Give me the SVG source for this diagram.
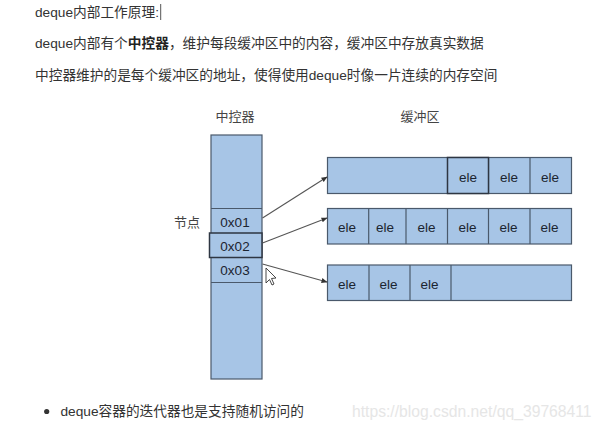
<svg xmlns="http://www.w3.org/2000/svg" width="602" height="428" viewBox="0 0 602 428">
  <style>
    .txt { font-family: "Liberation Sans", "Noto Sans CJK SC", sans-serif; font-size: 13.7px; fill: #333333; }
    .lbl { font-family: "Liberation Sans", "Noto Sans CJK SC", sans-serif; font-size: 13px; fill: #444444; text-anchor: middle; }
    .cell { fill: #a7c5e6; stroke: #4a596b; stroke-width: 1.2; }
    .sel { fill: #a7c5e6; stroke: #2e3642; stroke-width: 1.5; }
    .div { stroke: #4a596b; stroke-width: 1.2; }
    .v { font-family: "Liberation Sans", "Noto Sans", sans-serif; font-size: 13.5px; fill: #1c2430; text-anchor: middle; }
    .conn { stroke: #555555; stroke-width: 1.1; fill: none; marker-end: url(#ah); }
  </style>
  <defs>
    <marker id="ah" markerWidth="6" markerHeight="6" refX="5.5" refY="3" orient="auto" markerUnits="userSpaceOnUse">
      <path d="M0,0.5 L6,3 L0,5.5 Z" fill="#333333"/>
    </marker>
  </defs>
  <rect width="602" height="428" fill="#ffffff"/>

  <g id="text-lines">
    <text class="txt" x="35" y="17">deque内部工作原理:</text>
    <line x1="160.7" y1="4" x2="160.7" y2="20" stroke="#555" stroke-width="1"/>
    <text class="txt" x="35" y="48">deque内部有个<tspan font-weight="bold" fill="#222">中控器</tspan>，维护每段缓冲区中的内容，缓冲区中存放真实数据</text>
    <text class="txt" x="35" y="80">中控器维护的是每个缓冲区的地址，使得使用deque时像一片连续的内存空间</text>
  </g>

  <g id="labels">
    <text class="lbl" x="235" y="121">中控器</text>
    <text class="lbl" x="420" y="121">缓冲区</text>
    <text class="lbl" x="187" y="227">节点</text>
  </g>

  <g id="controller">
    <rect class="cell" x="211" y="135" width="51" height="244"/>
    <line class="div" x1="211" y1="208.5" x2="262" y2="208.5"/>
    <line class="div" x1="211" y1="282.5" x2="262" y2="282.5"/>
    <rect class="sel" x="209.5" y="233" width="52.5" height="24.5"/>
    <text class="v" x="235" y="226.5">0x01</text>
    <text class="v" x="235" y="250.5">0x02</text>
    <text class="v" x="235" y="275">0x03</text>
  </g>

  <g id="buffer1">
    <rect class="cell" x="327.5" y="157.5" width="244" height="36"/>
    <line class="div" x1="488.5" y1="157.5" x2="488.5" y2="193.5"/>
    <line class="div" x1="530" y1="157.5" x2="530" y2="193.5"/>
    <rect class="sel" x="447.5" y="157.5" width="41" height="36"/>
    <text class="v" x="468" y="181.5">ele</text>
    <text class="v" x="509" y="181.5">ele</text>
    <text class="v" x="550" y="181.5">ele</text>
  </g>

  <g id="buffer2">
    <rect class="cell" x="327.5" y="208.5" width="244" height="35.5"/>
    <line class="div" x1="368.7" y1="208.5" x2="368.7" y2="244"/>
    <line class="div" x1="406" y1="208.5" x2="406" y2="244"/>
    <line class="div" x1="447.5" y1="208.5" x2="447.5" y2="244"/>
    <line class="div" x1="488.5" y1="208.5" x2="488.5" y2="244"/>
    <line class="div" x1="530" y1="208.5" x2="530" y2="244"/>
    <text class="v" x="347" y="231.5">ele</text>
    <text class="v" x="385" y="231.5">ele</text>
    <text class="v" x="426.5" y="231.5">ele</text>
    <text class="v" x="467.5" y="231.5">ele</text>
    <text class="v" x="508.5" y="231.5">ele</text>
    <text class="v" x="549.5" y="231.5">ele</text>
  </g>

  <g id="buffer3">
    <rect class="cell" x="327.5" y="265" width="244" height="35.5"/>
    <line class="div" x1="369" y1="265" x2="369" y2="300.5"/>
    <line class="div" x1="410" y1="265" x2="410" y2="300.5"/>
    <line class="div" x1="451" y1="265" x2="451" y2="300.5"/>
    <text class="v" x="347" y="288.5">ele</text>
    <text class="v" x="388.5" y="288.5">ele</text>
    <text class="v" x="429.5" y="288.5">ele</text>
  </g>

  <g id="connectors">
    <line class="conn" x1="262.5" y1="218" x2="327" y2="177"/>
    <line class="conn" x1="262.5" y1="243" x2="327" y2="218"/>
    <line class="conn" x1="262.5" y1="264" x2="327" y2="282"/>
  </g>

  <g id="pointer">
    <path d="M266,268 L266,283 L269.5,279.5 L272,285 L274,284 L271.5,278.5 L276,278 Z" fill="#ffffff" stroke="#333" stroke-width="0.9" stroke-linejoin="round"/>
  </g>

  <g id="bullet">
    <circle cx="46.7" cy="411.5" r="2.6" fill="#333"/>
    <text class="txt" x="60.5" y="416">deque容器的迭代器也是支持随机访问的</text>
    <text x="352" y="416.5" font-family="Liberation Sans, sans-serif" font-size="15.7" fill="#e6e6e6">https://blog.csdn.net/qq_39768411</text>
  </g>
</svg>
